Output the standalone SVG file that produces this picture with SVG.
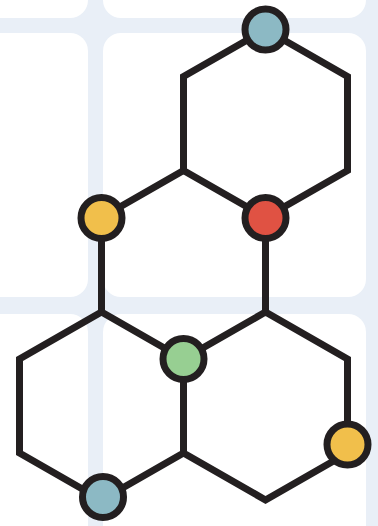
<svg xmlns="http://www.w3.org/2000/svg" width="378" height="526" viewBox="0 0 378 526">
  <style>
    .tile { fill: #ffffff; }
    .bond { fill: none; stroke: #231f20; stroke-width: 7; stroke-linejoin: miter; stroke-linecap: butt; }
    .atom { stroke: #231f20; stroke-width: 7; }
    .blue { fill: #8cb9c4; }
    .yellow { fill: #f1bf4b; }
    .red { fill: #e05243; }
    .green { fill: #97cf92; }
  </style>
  <g id="background">
    <rect x="0" y="0" width="378" height="526" fill="#e9eff7"/>
    <rect class="tile" x="-30" y="-40" width="118" height="58" rx="18"/>
    <rect class="tile" x="103" y="-40" width="263" height="58" rx="18"/>
    <rect class="tile" x="-30" y="33" width="118" height="264" rx="18"/>
    <rect class="tile" x="103" y="33" width="263" height="264" rx="18"/>
    <rect class="tile" x="-30" y="314" width="118" height="260" rx="18"/>
    <rect class="tile" x="103" y="314" width="263" height="260" rx="18"/>
  </g>
  <g id="connectors">
    <path class="bond" d="M265.5 29.5 L347.5 76.5 L347.5 170.5 L265.5 217.5 L183.5 170.5 L183.5 76.5 Z"/>
    <path class="bond" d="M183.5 170.5 L101.5 217.5 L101.5 312"/>
    <path class="bond" d="M265.5 217.5 L265.5 312"/>
    <path class="bond" d="M101.5 312 L183.5 359 L183.5 453 L101.5 500 L19.5 453 L19.5 359 Z"/>
    <path class="bond" d="M265.5 312 L347.5 359 L347.5 453 L265.5 500 L183.5 453 L183.5 359 Z"/>
  </g>
  <g id="node-top-blue"><circle class="atom blue" cx="265.5" cy="29.5" r="20.5"/></g>
  <g id="node-left-yellow"><circle class="atom yellow" cx="101.5" cy="218" r="20.5"/></g>
  <g id="node-red"><circle class="atom red" cx="265.5" cy="218" r="20.5"/></g>
  <g id="node-green"><circle class="atom green" cx="183.5" cy="359" r="20.5"/></g>
  <g id="node-right-yellow"><circle class="atom yellow" cx="347.5" cy="444.5" r="20.5"/></g>
  <g id="node-bottom-blue"><circle class="atom blue" cx="103" cy="497" r="20.5"/></g>
</svg>
